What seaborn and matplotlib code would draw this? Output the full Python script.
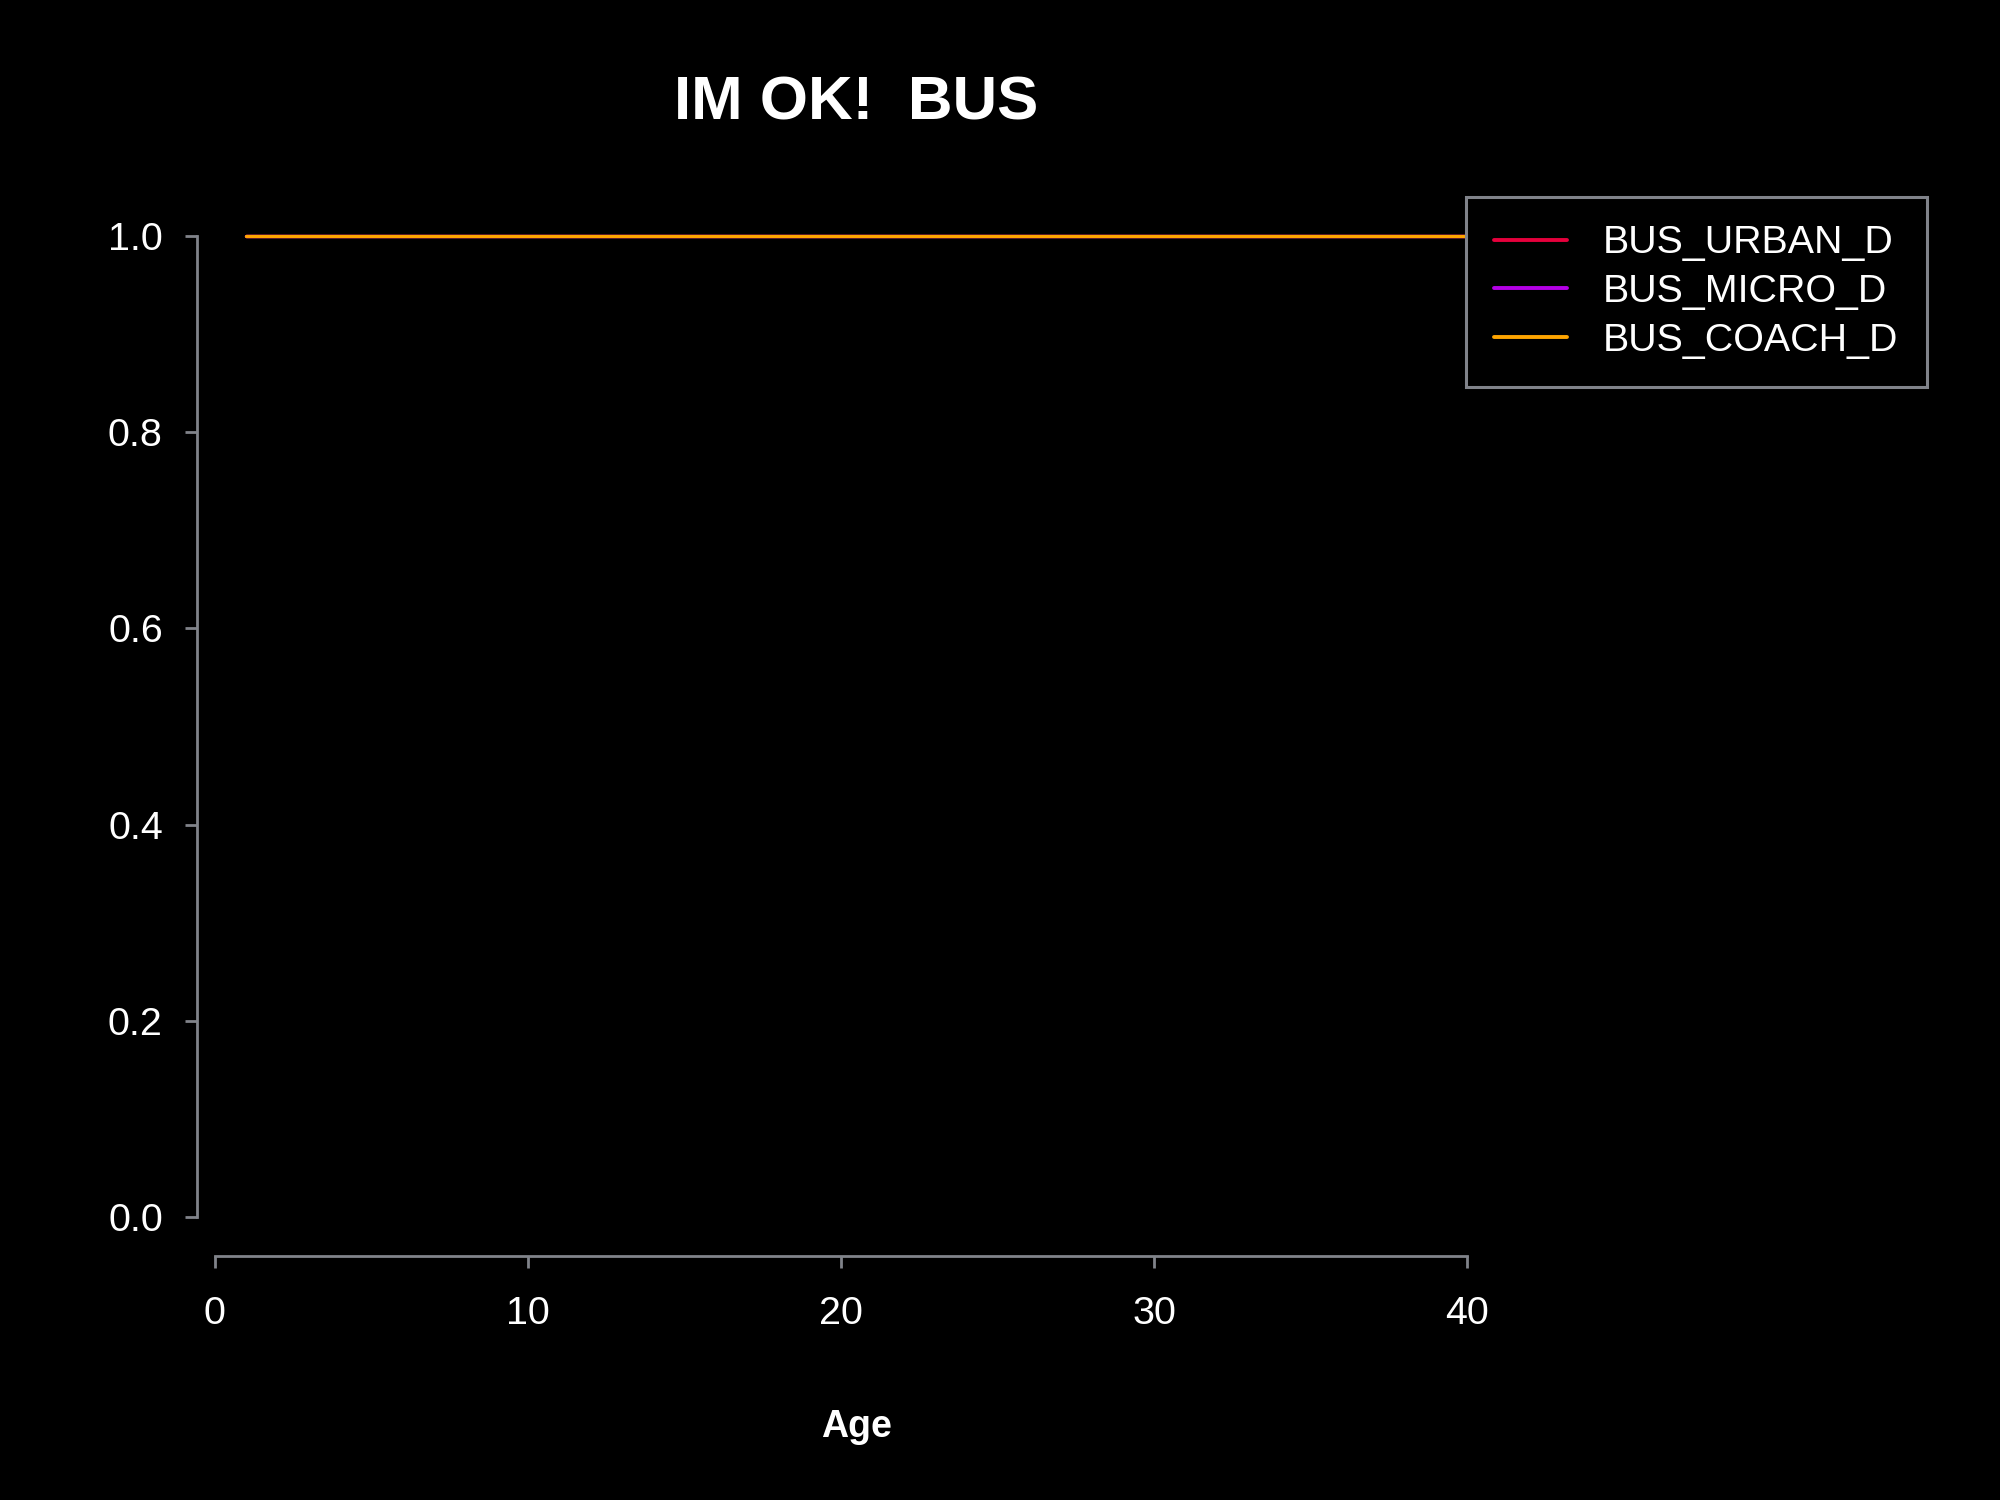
import numpy as np
import pandas as pd
import matplotlib
matplotlib.use("Agg")
import matplotlib.pyplot as plt
import seaborn as sns

# ---- data ----
ages = list(range(1, 41))
bus_urban_d = [1.0] * 40
bus_micro_d = [1.0] * 40
bus_coach_d = [1.0] * 40
series_names = ["BUS_URBAN_D", "BUS_MICRO_D", "BUS_COACH_D"]
series_colors = ["#e6003c", "#b400e6", "#ffa500"]
x_ticks = [0, 10, 20, 30, 40]
y_ticks = [0.0, 0.2, 0.4, 0.6, 0.8, 1.0]
title_text = "IM OK!  BUS"
xlabel_text = "Age"

df = pd.DataFrame({
    "Age": ages * 3,
    "value": bus_urban_d + bus_micro_d + bus_coach_d,
    "series": [series_names[0]] * 40 + [series_names[1]] * 40 + [series_names[2]] * 40,
})

sns.set_theme(style="dark")
plt.rcParams["font.family"] = ["Liberation Sans", "DejaVu Sans"]

W, H = 2000, 1500
fig = plt.figure(figsize=(10, 7.5), dpi=200, facecolor="black")
L, R, T, B = 197, 1516, 197, 1256
ax = fig.add_axes([L / W, 1 - B / H, (R - L) / W, (B - T) / H])
ax.set_facecolor("black")

sns.lineplot(data=df, x="Age", y="value", hue="series", hue_order=series_names,
             palette=series_colors, linewidth=1.2, ax=ax, legend=True)

ax.set_xlim(-0.56, 41.56)
ax.set_ylim(-0.04, 1.04)
ax.grid(False)
ax.set_xticks(x_ticks)
ax.set_yticks(y_ticks)
ax.set_xticklabels([str(v) for v in x_ticks])
ax.set_yticklabels([f"{v:.1f}" for v in y_ticks])
ax.set_xlabel("")
ax.set_ylabel("")

axis_col = "#80838a"
for s in ["top", "right"]:
    ax.spines[s].set_visible(False)
for s in ["left", "bottom"]:
    ax.spines[s].set_visible(True)
    ax.spines[s].set_color(axis_col)
    ax.spines[s].set_linewidth(1.0)
ax.spines["left"].set_bounds(0, 1)
ax.spines["bottom"].set_bounds(0, 40)
ax.tick_params(axis="both", colors=axis_col, labelcolor="white", labelsize=14.2,
               length=4.3, width=1.0, direction="out", left=True, bottom=True)
ax.tick_params(axis="x", pad=10)
ax.tick_params(axis="y", pad=8)

old = ax.get_legend()
handles = old.legend_handles
labels = [t.get_text() for t in old.texts]
old.remove()
for h in handles:
    h.set_linewidth(1.4)
leg = ax.legend(handles, labels, loc="upper left",
                bbox_to_anchor=(1466 / W, 1 - 197 / H), bbox_transform=fig.transFigure,
                fontsize=14.2, frameon=True, fancybox=False, framealpha=1,
                facecolor="black", edgecolor=axis_col, labelcolor="white",
                handlelength=1.85, handletextpad=0.9, labelspacing=0.32,
                borderpad=0.72, borderaxespad=0)
leg.get_frame().set_linewidth(1.1)

fig.text(856 / W, 1 - 120 / H, title_text, ha="center", va="baseline",
         color="white", fontsize=22.3, fontweight="bold")
fig.text(857 / W, 1 - 1437 / H, xlabel_text, ha="center", va="baseline",
         color="white", fontsize=13.5, fontweight="bold")

fig.savefig("out.png", dpi=200, facecolor="black")
